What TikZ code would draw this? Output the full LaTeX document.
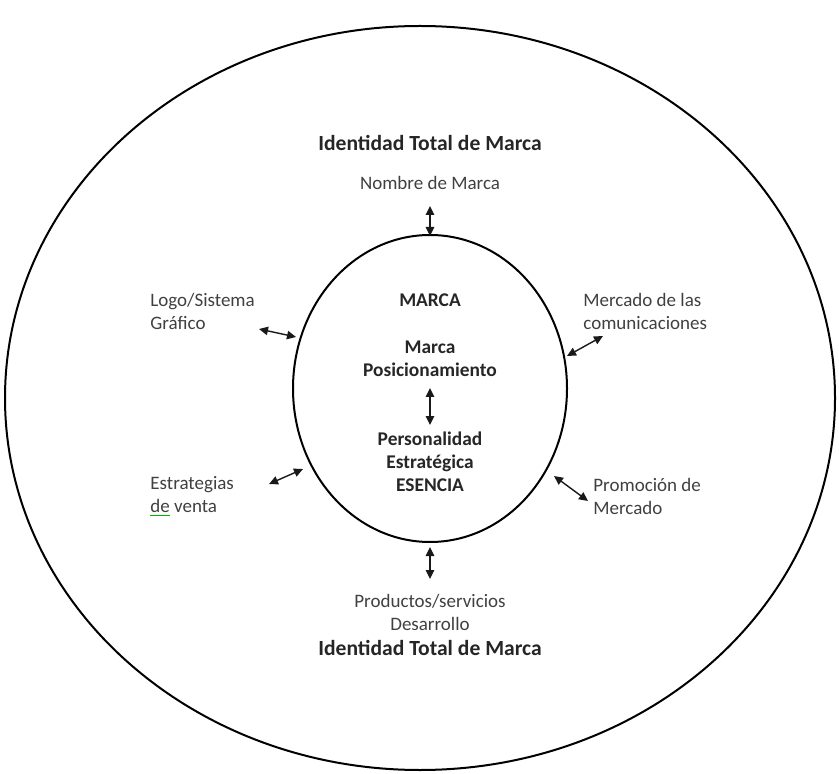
\documentclass[tikz,border=0pt]{standalone}
\usepackage{fontspec}
\setmainfont{Carlito}
\usetikzlibrary{shapes.geometric,arrows.meta}
\tikzset{
  lbl/.style={inner sep=0pt,text=black!75,font=\fontsize{9.5}{11.6}\selectfont},
  lblb/.style={inner sep=0pt,text=black!85,font=\fontsize{9.7}{11.6}\selectfont\bfseries},
  ttl/.style={inner sep=0pt,text=black!85,font=\fontsize{10.8}{13}\selectfont\bfseries},
  link/.style={{Triangle[length=4.5pt,width=4.2pt]}-{Triangle[length=4.5pt,width=4.2pt]},line width=0.7pt,black!90}
}
\begin{document}
\begin{tikzpicture}[x=0.5pt,y=-0.5pt]
  \useasboundingbox (0,0) rectangle (839,774);
  \node[draw,ellipse,line width=1pt,inner sep=0pt,minimum width=415pt,minimum height=372pt] (outer) at (420,398) {};
  \node[draw,ellipse,line width=1pt,inner sep=0pt,minimum width=137pt,minimum height=153.5pt] (inner) at (430,388.5) {};
  \node[ttl] (idtop) at (430,143) {Identidad Total de Marca};
  \node[lbl] (nombre) at (430,183) {Nombre de Marca};
  \node[lblb] (marca) at (430,300) {MARCA};
  \node[lblb,align=center] (posic) at (430,358.5) {Marca\\Posicionamiento};
  \node[lblb,align=center] (esencia) at (430,462) {Personalidad\\Estratégica\\ESENCIA};
  \node[lbl,align=center] (productos) at (430,612.5) {Productos/servicios\\Desarrollo};
  \node[ttl] (idbot) at (430,648) {Identidad Total de Marca};
  \node[lbl,align=left,anchor=west] (logo) at (150,311.5) {Logo/Sistema\\Gráfico};
  \node[lbl,align=left,anchor=west] (estrat) at (150,496.5) {Estrategias\\\textcolor{green!70!black}{\underline{\textcolor{black!75}{de}}} venta};
  \node[lbl,align=left,anchor=west] (mercado) at (583,311.5) {Mercado de las\\comunicaciones};
  \node[lbl,align=left,anchor=west] (promo) at (593,496.5) {Promoción de\\Mercado};
  \coordinate (n1) at (430,206);
  \coordinate (n2) at (430,236);
  \coordinate (c1) at (430,388);
  \coordinate (c2) at (430,425);
  \coordinate (s1) at (430,547);
  \coordinate (s2) at (430,579);
  \coordinate (lu1) at (259,329);
  \coordinate (lu2) at (296,337);
  \coordinate (ld1) at (269,484);
  \coordinate (ld2) at (303,469);
  \coordinate (ru1) at (567,356);
  \coordinate (ru2) at (603,336);
  \coordinate (rd1) at (554,476);
  \coordinate (rd2) at (588,501);
  \foreach \a/\b in {n1/n2,c1/c2,s1/s2,lu1/lu2,ld1/ld2,ru1/ru2,rd1/rd2} {
    \draw[link] (\a) -- (\b);
  }
\end{tikzpicture}
\end{document}
